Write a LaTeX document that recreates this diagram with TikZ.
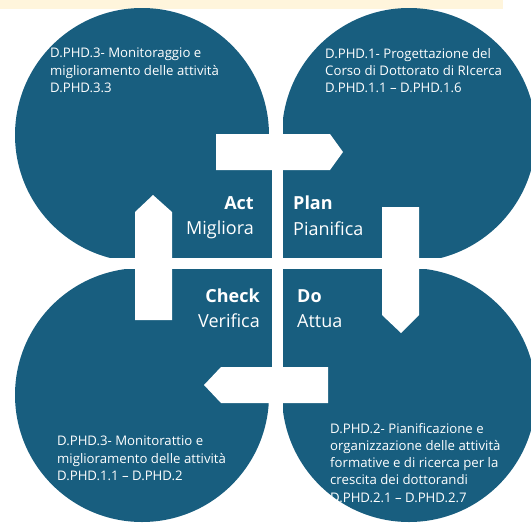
\documentclass[tikz,border=0pt]{standalone}
\usepackage{fontspec}
\setmainfont{Open Sans}
\definecolor{pdcablue}{HTML}{185E7F}
\definecolor{barcream}{HTML}{FFF5DC}
\tikzset{
  quarter/.style={draw=none, fill=pdcablue},
  signarrow/.style={draw=none, fill=white},
  phase/.style={text=white, inner sep=0pt, font=\fontsize{18}{22}\selectfont\bfseries},
  phasesub/.style={text=white, inner sep=0pt, font=\fontsize{18}{22}\selectfont},
  blurb/.style={text=white, inner sep=0pt, align=left, font=\fontsize{13.2}{17.2}\selectfont}
}

\begin{document}
\begin{tikzpicture}[x=1pt, y=-1pt]
	\useasboundingbox (0,0) rectangle (531,523);
	\draw[draw=none, fill=barcream] (0,0) rectangle (503,8.5);
	\foreach \cx in {142,409} {
		\foreach \cy in {135,395} {
			\draw[quarter] (\cx,\cy) circle (127pt);
		}
	}
	\draw[quarter] (142,135) rectangle (409,395);
	\draw[white, line width=11pt] (277,9) -- (277,523);
	\draw[white, line width=11pt] (0,263.5) -- (531,263.5);
	\draw[signarrow] (216,134) -- (330,134) -- (343,152) -- (330,170) -- (216,170) -- cycle;
	\draw[signarrow] (382,207) -- (419,207) -- (419,315) -- (401,333) -- (382,315) -- cycle;
	\draw[signarrow] (328,367) -- (221,367) -- (204,385) -- (221,403) -- (328,403) -- cycle;
	\draw[signarrow] (135,320) -- (135,212) -- (153,195) -- (172,212) -- (172,320) -- cycle;
	\node[phase, anchor=base east] (act) at (254,209) {Act};
	\node[phasesub, anchor=base east] (migliora) at (254,234) {Migliora};
	\node[phase, anchor=base west] (plan) at (293,209) {Plan};
	\node[phasesub, anchor=base west] (pianifica) at (293,235) {Pianifica};
	\node[phase, anchor=base east] (check) at (260,302) {Check};
	\node[phasesub, anchor=base east] (verifica) at (260,327) {Verifica};
	\node[phase, anchor=base west] (do) at (297,302) {Do};
	\node[phasesub, anchor=base west] (attua) at (297,327) {Attua};
	\node[blurb, anchor=north west] (acttext) at (50,48) {D.PHD.3- Monitoraggio e\\miglioramento delle attività\\D.PHD.3.3};
	\node[blurb, anchor=north west] (plantext) at (325,48) {D.PHD.1- Progettazione del\\Corso di Dottorato di RIcerca\\D.PHD.1.1 – D.PHD.1.6};
	\node[blurb, anchor=north west] (checktext) at (57,436) {D.PHD.3- Monitorattio e\\miglioramento delle attività\\D.PHD.1.1 – D.PHD.2};
	\node[blurb, anchor=north west] (dotext) at (330,423) {D.PHD.2- Pianificazione e\\organizzazione delle attività\\formative e di ricerca per la\\crescita dei dottorandi\\D.PHD.2.1 – D.PHD.2.7};
\end{tikzpicture}
\end{document}
